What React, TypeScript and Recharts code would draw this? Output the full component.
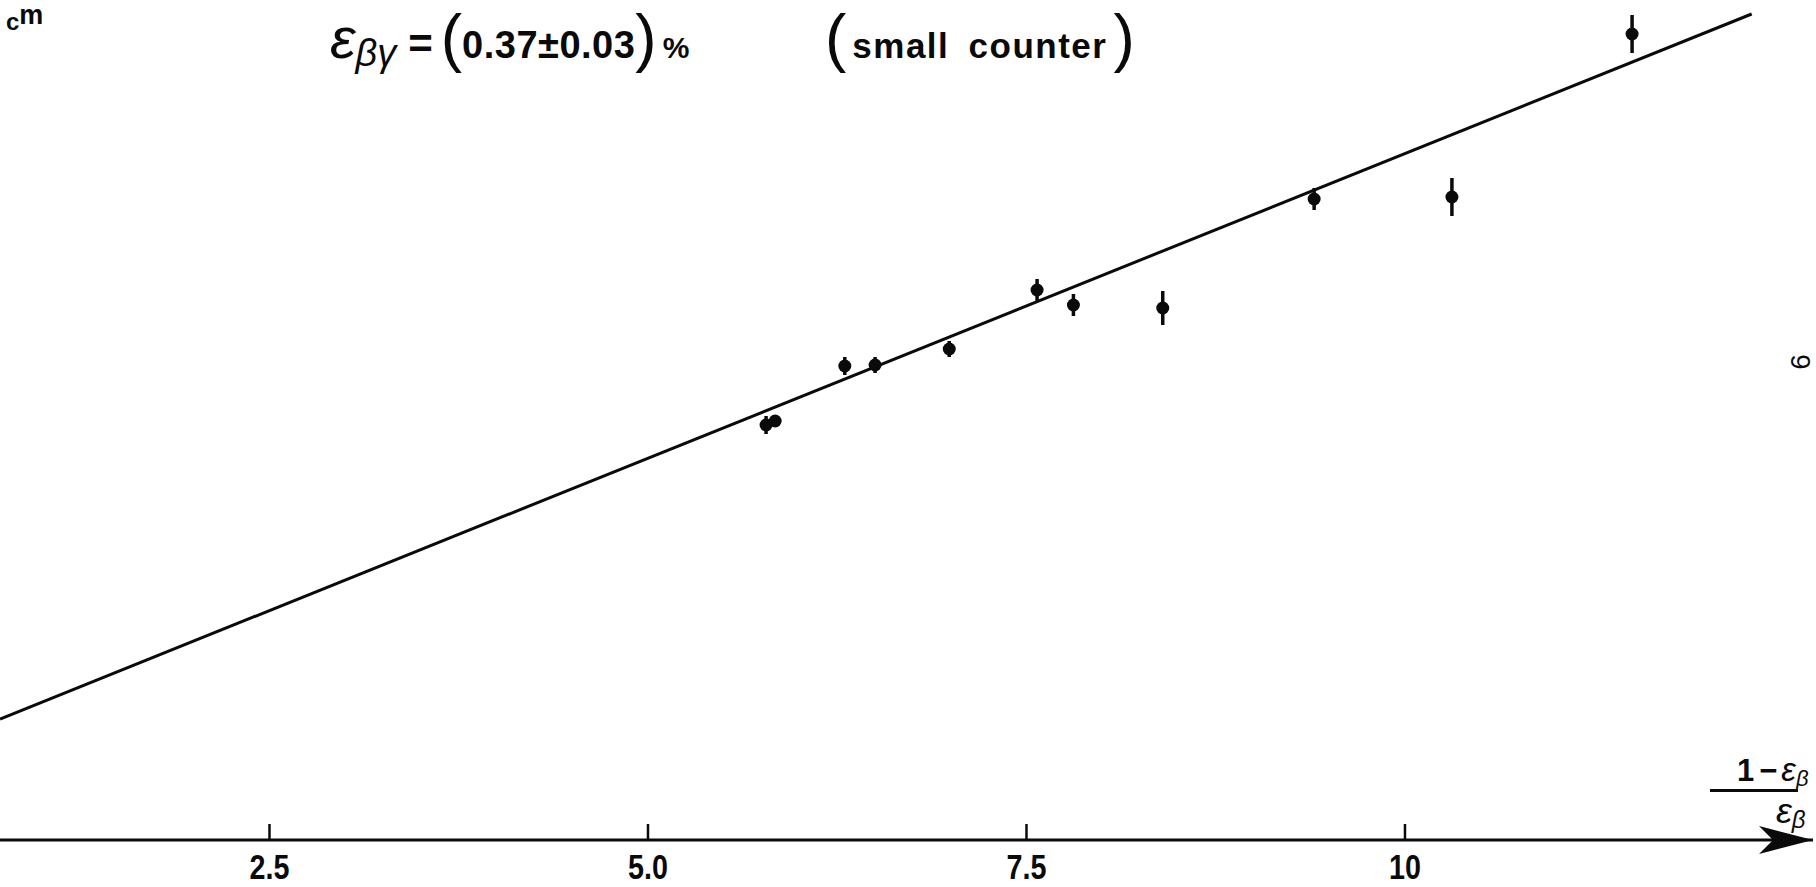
import React from 'react';
import { ComposedChart, Scatter, Line, XAxis, YAxis, ErrorBar, ReferenceDot } from 'recharts';

const xValues = [5.78, 5.84, 6.30, 6.50, 6.99, 7.57, 7.81, 8.40, 9.40, 10.31, 11.50];
const yValues = [4.15, 4.19, 4.74, 4.75, 4.91, 5.50, 5.35, 5.32, 6.41, 6.43, 8.06];
const yErrors = [0.09, 0, 0.09, 0.08, 0.08, 0.11, 0.11, 0.17, 0.11, 0.19, 0.19];

// fitted straight line, its two drawn ends
const fitX = [0.72, 12.29];
const fitY = [1.21, 8.26];

const xTicks = [2.5, 5, 7.5, 10];
const xTickLabels = ['2.5', '5.0', '7.5', '10'];

const points = xValues.map((x, i) => ({ x, y: yValues[i], err: yErrors[i] }));
const fit = fitX.map((x, i) => ({ x, fit: fitY[i] }));

const NARROW = '"Liberation Sans Narrow", "Arial Narrow", "Liberation Sans", sans-serif';
const SANS = '"Liberation Sans", Arial, sans-serif';
const INK = '#0a0a0a';

const AxisTick = (props: any) => {
  const { x, y, payload } = props;
  const i = xTicks.indexOf(payload.value);
  return (
    <g>
      <line x1={x} x2={x} y1={y - 16} y2={y} stroke={INK} strokeWidth={2.5} />
      <text x={x} y={y + 27} textAnchor="middle" dominantBaseline="central"
        transform={`translate(${x},0) scale(0.82,1) translate(${-x},0)`}
        fontFamily={SANS} fontWeight={700} fontSize={35} fill={INK}>
        {xTickLabels[i]}
      </text>
    </g>
  );
};

const Arrow = (props: any) => {
  const { cx, cy } = props;
  return (
    <path d={`M${cx},${cy} L${cx - 54},${cy - 14} L${cx - 40},${cy} L${cx - 54},${cy + 14} Z`} fill={INK} />
  );
};

const Dot = (props: any) => <circle cx={props.cx} cy={props.cy} r={6.5} fill={INK} />;

const italic = { fontFamily: SANS, fontStyle: 'italic' as const, fontWeight: 400 };
const bigParen = { fontFamily: SANS, fontWeight: 400, fontSize: 64, position: 'relative' as const, top: 2 };

export default function App() {
  return (
    <div style={{ position: 'absolute', left: 0, top: 0, width: 1816, height: 887, background: '#fff', overflow: 'hidden' }}>
      <ComposedChart width={1816} height={887} margin={{ top: 0, right: 3, bottom: 0, left: 0 }}>
        <XAxis dataKey="x" type="number" domain={[0.72, 12.695]} allowDataOverflow ticks={xTicks}
          height={47} tickSize={0} tickMargin={0} tickLine={false}
          axisLine={{ stroke: INK, strokeWidth: 3 }} tick={<AxisTick />} interval={0} />
        <YAxis type="number" domain={[0, 8.4]} allowDataOverflow hide width={0} />
        <Line data={fit} dataKey="fit" type="linear" stroke={INK} strokeWidth={3} dot={false} activeDot={false} isAnimationActive={false} />
        <Scatter data={points} dataKey="y" shape={<Dot />} isAnimationActive={false}>
          <ErrorBar dataKey="err" direction="y" width={0} stroke={INK} strokeWidth={3.5} />
        </Scatter>
        <ReferenceDot x={12.695} y={0} shape={<Arrow />} ifOverflow="visible" />
      </ComposedChart>

      {/* unit at top left */}
      <div style={{ position: 'absolute', left: 6, top: 5, fontFamily: SANS, fontWeight: 700, color: INK, whiteSpace: 'nowrap', lineHeight: '20px' }}>
        <span style={{ fontSize: 24, position: 'relative', top: 6 }}>c</span>
        <span style={{ fontSize: 27 }}>m</span>
      </div>

      {/* formula */}
      <div style={{ position: 'absolute', left: 330, top: 4, fontFamily: NARROW, fontWeight: 700, fontSize: 38, color: INK, whiteSpace: 'nowrap', lineHeight: '64px' }}>
        <span style={{ ...italic, fontSize: 58 }}>ε</span>
        <span style={{ ...italic, fontSize: 38, position: 'relative', top: 8 }}>βγ</span>
        <span style={{ fontFamily: SANS, fontSize: 42, margin: '0 8px 0 12px' }}>=</span>
        <span style={bigParen}>(</span>
        <span style={{ letterSpacing: 0.5 }}>0.37±0.03</span>
        <span style={bigParen}>)</span>
        <span style={{ fontSize: 30, marginLeft: 6 }}>%</span>
      </div>

      <div style={{ position: 'absolute', left: 825, top: 4, fontFamily: SANS, fontWeight: 700, fontSize: 35, color: INK, whiteSpace: 'nowrap', lineHeight: '64px' }}>
        <span style={bigParen}>(</span>
        <span style={{ letterSpacing: 1.5, wordSpacing: 8, margin: '0 6px' }}>small counter</span>
        <span style={bigParen}>)</span>
      </div>

      {/* x axis quantity */}
      <div style={{ position: 'absolute', left: 1737, top: 752, fontFamily: NARROW, fontWeight: 700, fontSize: 31, lineHeight: '36px', color: INK, whiteSpace: 'nowrap' }}>
        <span style={{ marginRight: 5 }}>1</span>
        <span style={{ marginRight: 4 }}>−</span>
        <span style={{ ...italic, fontSize: 33 }}>ε</span>
        <span style={{ ...italic, fontSize: 22, position: 'relative', top: 5 }}>β</span>
      </div>
      <div style={{ position: 'absolute', left: 1710, top: 789, width: 88, borderTop: `3px solid ${INK}` }} />
      <div style={{ position: 'absolute', left: 1776, top: 792, fontSize: 36, lineHeight: '38px', color: INK, whiteSpace: 'nowrap' }}>
        <span style={italic}>ε</span>
        <span style={{ ...italic, fontSize: 24, position: 'relative', top: 5 }}>β</span>
      </div>

      {/* page number, turned */}
      <div style={{ position: 'absolute', left: 1793, top: 346, fontFamily: SANS, fontSize: 28, color: INK, transform: 'rotate(-90deg)', transformOrigin: 'center' }}>6</div>
    </div>
  );
}
